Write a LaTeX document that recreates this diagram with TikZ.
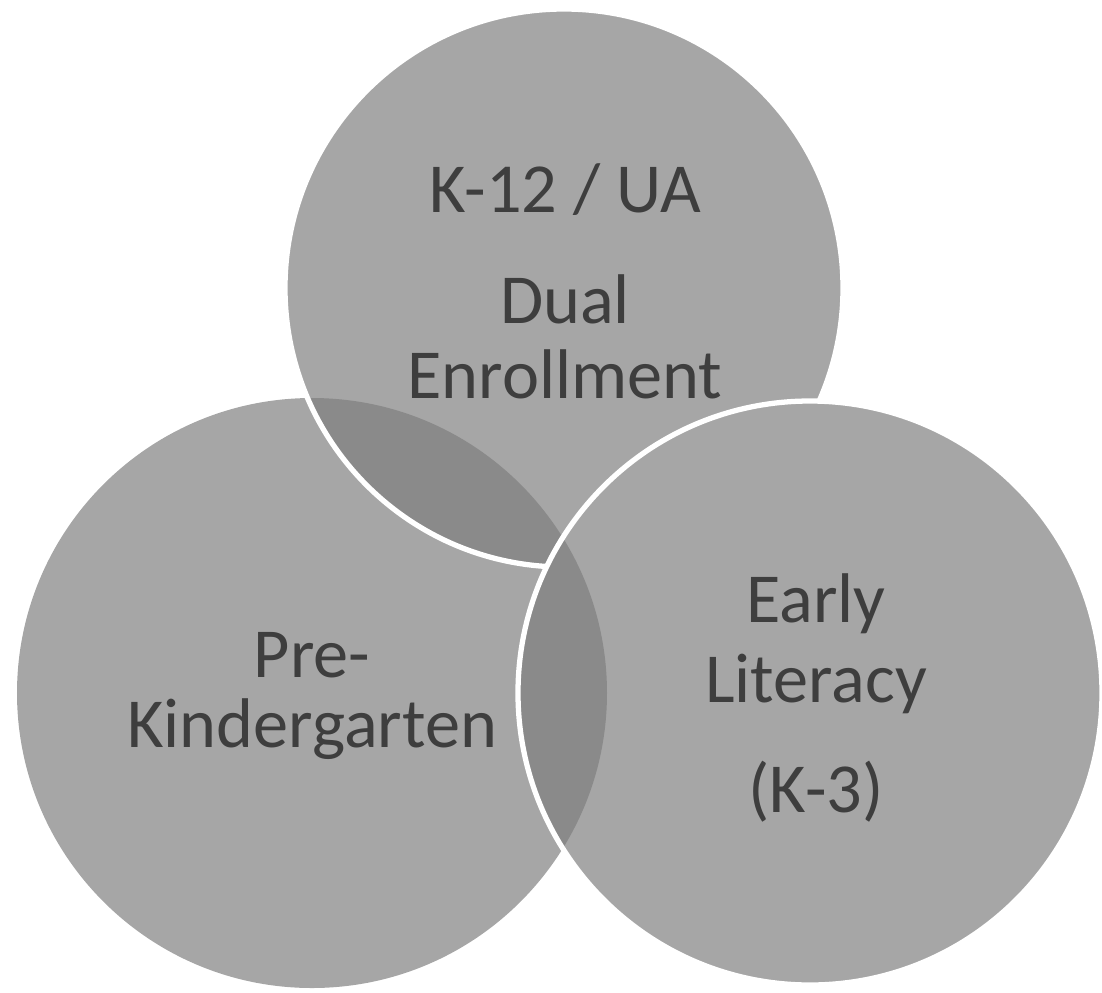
\documentclass[tikz,border=0pt]{standalone}
\usepackage{fontspec}
\setmainfont{Carlito}
\definecolor{discgray}{RGB}{166,166,166}
\definecolor{lensgray}{RGB}{138,138,138}
\definecolor{wordgray}{RGB}{62,62,62}
\begin{document}
\begin{tikzpicture}[
  disc/.style={fill=discgray},
  lens/.style={fill=lensgray},
  rim/.style={draw=white,line width=1.5pt},
  word/.style={text=wordgray,font=\fontsize{20}{20}\selectfont,anchor=base,inner sep=0pt}]
\useasboundingbox (0,0) rectangle (11.02,-9.92);
\coordinate (ctop) at (5.64,-2.88);
\coordinate (cleft) at (3.12,-6.93);
\coordinate (cright) at (8.10,-6.93);
% left circle, then the top one over it
\fill[disc] (cleft) circle (2.95);
\fill[disc] (ctop) circle (2.79);
\begin{scope}
 \clip (cleft) circle (2.95);
 \fill[lens] (ctop) circle (2.79);
\end{scope}
\draw[rim] (ctop) circle (2.79);
% right circle on top
\fill[disc] (cright) circle (2.92);
\begin{scope}
 \clip (cleft) circle (2.95);
 \fill[lens] (cright) circle (2.92);
\end{scope}
\draw[rim] (cright) circle (2.92);
% texts
\node[word] (ka) at (5.65,-2.12) {K-12 / UA};
\node[word] (kb) at (5.65,-3.23) {Dual};
\node[word] (kc) at (5.65,-3.98) {Enrollment};
\foreach \name/\y/\txt in {pa/-6.77/Pre-,pb/-7.47/Kindergarten}{
 \node[word] (\name) at (3.12,\y) {\txt};}
\foreach \name/\y/\txt in {ea/-6.22/Early,eb/-7.02/Literacy,ec/-8.12/(K-3)}{
 \node[word] (\name) at (8.16,\y) {\txt};}
\end{tikzpicture}
\end{document}
